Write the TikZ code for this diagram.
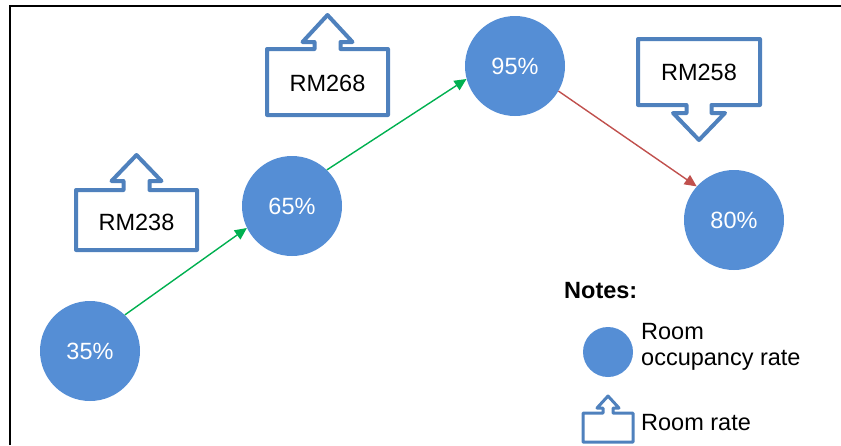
\documentclass[tikz,border=0pt]{standalone}
\usepackage{fontspec}
\setmainfont{Liberation Sans}
\usetikzlibrary{arrows.meta}
\definecolor{occblue}{RGB}{85,142,213}
\definecolor{rateblue}{RGB}{79,129,189}
\definecolor{upgreen}{RGB}{0,176,80}
\definecolor{downred}{RGB}{192,80,77}

\begin{document}
\begin{tikzpicture}[x=1pt,y=-1pt,
  txt/.style={inner sep=0pt,font=\fontsize{23.5}{26}\selectfont},
  occ/.style={txt,circle,fill=occblue,minimum size=100pt,text=white},
  ratebox/.style={draw=rateblue,line width=4pt,line join=round,fill=white},
  rise/.style={draw=upgreen,line width=1.4pt,-{Triangle[length=12pt,width=11pt]}},
  fall/.style={draw=downred,line width=1.4pt,-{Triangle[length=12pt,width=11pt]}}]
\useasboundingbox (0,0) rectangle (841,445);

% frame
\draw[line width=2pt] (10,445) -- (10,6) -- (841,6);

% room-rate callouts
\draw[ratebox] (76,190) -- (123.5,190) -- (123.5,181) -- (111.5,181) -- (136.5,155)
  -- (161.5,181) -- (149.5,181) -- (149.5,190) -- (197,190) -- (197,250) -- (76,250) -- cycle;
\node[txt] (r238) at (136.5,222) {RM238};

\draw[ratebox] (267,49) -- (314.5,49) -- (314.5,42) -- (302.5,42) -- (327.5,15)
  -- (352.5,42) -- (340.5,42) -- (340.5,49) -- (388,49) -- (388,115) -- (267,115) -- cycle;
\node[txt] (r268) at (327.5,83.5) {RM268};

\draw[ratebox] (638,39) -- (760,39) -- (760,105) -- (711.5,105) -- (711.5,113) -- (725,113)
  -- (699,140) -- (673,113) -- (686.5,113) -- (686.5,105) -- (638,105) -- cycle;
\node[txt] (r258) at (699,72.5) {RM258};

% occupancy circles
\node[occ] (c35) at (90,351) {35\%};
\node[occ] (c65) at (292,206) {65\%};
\node[occ] (c95) at (515,66) {95\%};
\node[occ] (c80) at (734,220) {80\%};

% trend arrows
\draw[rise] (c35.46) -- (c65.206);
\draw[rise] (c65.46) -- (c95.195);
\draw[fall] (c95.-30) -- (c80.138);

% legend
\node[txt,anchor=base west,font=\fontsize{23.5}{26}\selectfont\bfseries] (notes) at (564,298) {Notes:};
\node[circle,fill=occblue,minimum size=50pt,inner sep=0pt] (legc) at (608,352) {};
\node[txt,anchor=base west] (legc1) at (641,339) {Room};
\node[txt,anchor=base west] (legc2) at (641,365) {occupancy rate};
\draw[ratebox,line width=3pt] (583,413) -- (603,413) -- (603,408) -- (597,408) -- (608,396)
  -- (619,408) -- (613,408) -- (613,413) -- (633,413) -- (633,442) -- (583,442) -- cycle;
\node[txt,anchor=base west] (legr) at (641,430) {Room rate};
\end{tikzpicture}
\end{document}
